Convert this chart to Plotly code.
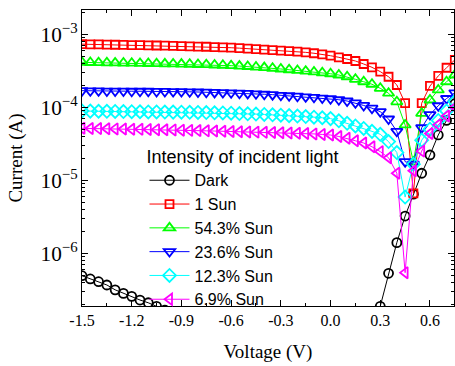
import plotly.graph_objects as go

voltage = [-1.5, -1.45, -1.4, -1.35, -1.3, -1.25, -1.2, -1.15, -1.1, -1.05,
           -1.0, -0.95, -0.9, -0.85, -0.8, -0.75, -0.7, -0.65, -0.6, -0.55,
           -0.5, -0.45, -0.4, -0.35, -0.3, -0.25, -0.2, -0.15, -0.1, -0.05,
           0.0, 0.05, 0.1, 0.15, 0.2, 0.25, 0.3, 0.35, 0.4, 0.45,
           0.5, 0.55, 0.6, 0.65, 0.7, 0.75]

dark = [4.93e-7, 4.45e-7, 4.08e-7, 3.68e-7, 3.16e-7, 2.82e-7, 2.57e-7, 2.29e-7, 2.10e-7, 1.88e-7,
        1.66e-7, 1.50e-7, 1.35e-7, 1.20e-7, 1.08e-7, 9.6e-8, 8.5e-8, 7.5e-8, 6.6e-8, 5.7e-8,
        4.9e-8, 4.1e-8, 3.4e-8, 2.7e-8, 2.1e-8, 1.6e-8, 1.1e-8, 7e-9, 4e-9, 2e-9,
        1e-9, 3e-9, 8e-9, 2e-8, 4.5e-8, 1.0e-7, 1.88e-7, 5.32e-7, 1.40e-6, 3.24e-6,
        6.46e-6, 1.25e-5, 2.22e-5, 4.18e-5, 6.61e-5, 1.12e-4]

sun_100 = [7.33e-4, 7.29e-4, 7.26e-4, 7.23e-4, 7.19e-4, 7.16e-4, 7.13e-4, 7.10e-4, 7.06e-4, 7.03e-4,
           6.98e-4, 6.93e-4, 6.89e-4, 6.84e-4, 6.79e-4, 6.75e-4, 6.68e-4, 6.62e-4, 6.55e-4, 6.46e-4,
           6.37e-4, 6.27e-4, 6.17e-4, 6.07e-4, 5.96e-4, 5.90e-4, 5.78e-4, 5.66e-4, 5.50e-4, 5.32e-4,
           5.09e-4, 4.84e-4, 4.59e-4, 4.31e-4, 3.92e-4, 3.53e-4, 3.08e-4, 2.62e-4, 2.02e-4, 1.14e-4,
           6.64e-6, 1.14e-4, 1.96e-4, 2.69e-4, 3.48e-4, 4.47e-4]

sun_543 = [4.13e-4, 4.11e-4, 4.09e-4, 4.07e-4, 4.06e-4, 4.04e-4, 4.02e-4, 4.00e-4, 3.98e-4, 3.96e-4,
           3.94e-4, 3.93e-4, 3.91e-4, 3.89e-4, 3.86e-4, 3.84e-4, 3.80e-4, 3.77e-4, 3.72e-4, 3.67e-4,
           3.62e-4, 3.56e-4, 3.50e-4, 3.43e-4, 3.35e-4, 3.27e-4, 3.20e-4, 3.13e-4, 3.05e-4, 2.97e-4,
           2.88e-4, 2.77e-4, 2.62e-4, 2.42e-4, 2.24e-4, 2.07e-4, 1.82e-4, 1.56e-4, 1.19e-4, 5.73e-5,
           1.78e-5, 8.28e-5, 1.26e-4, 1.73e-4, 2.24e-4, 2.77e-4]

sun_236 = [1.69e-4, 1.68e-4, 1.68e-4, 1.67e-4, 1.67e-4, 1.67e-4, 1.66e-4, 1.66e-4, 1.66e-4, 1.65e-4,
           1.65e-4, 1.64e-4, 1.64e-4, 1.63e-4, 1.62e-4, 1.61e-4, 1.60e-4, 1.59e-4, 1.58e-4, 1.56e-4,
           1.55e-4, 1.53e-4, 1.51e-4, 1.49e-4, 1.46e-4, 1.44e-4, 1.42e-4, 1.39e-4, 1.37e-4, 1.34e-4,
           1.31e-4, 1.27e-4, 1.22e-4, 1.15e-4, 1.06e-4, 9.72e-5, 8.71e-5, 6.92e-5, 4.68e-5, 1.80e-5,
           1.66e-5, 5.25e-5, 7.94e-5, 1.05e-4, 1.32e-4, 1.58e-4]

sun_123 = [8.91e-5, 8.87e-5, 8.83e-5, 8.81e-5, 8.77e-5, 8.75e-5, 8.71e-5, 8.69e-5, 8.65e-5, 8.63e-5,
           8.61e-5, 8.59e-5, 8.57e-5, 8.55e-5, 8.51e-5, 8.47e-5, 8.41e-5, 8.36e-5, 8.30e-5, 8.22e-5,
           8.15e-5, 8.07e-5, 7.98e-5, 7.89e-5, 7.80e-5, 7.69e-5, 7.59e-5, 7.46e-5, 7.33e-5, 7.19e-5,
           7.00e-5, 6.53e-5, 6.03e-5, 5.56e-5, 5.13e-5, 4.68e-5, 4.27e-5, 3.39e-5, 2.40e-5, 5.89e-6,
           1.66e-5, 3.55e-5, 5.01e-5, 6.61e-5, 8.91e-5, 1.20e-4]

sun_69 = [5.15e-5, 5.13e-5, 5.11e-5, 5.08e-5, 5.06e-5, 5.04e-5, 5.01e-5, 4.99e-5, 4.97e-5, 4.94e-5,
          4.92e-5, 4.90e-5, 4.86e-5, 4.83e-5, 4.80e-5, 4.76e-5, 4.73e-5, 4.70e-5, 4.67e-5, 4.63e-5,
          4.60e-5, 4.57e-5, 4.54e-5, 4.51e-5, 4.48e-5, 4.45e-5, 4.41e-5, 4.37e-5, 4.32e-5, 4.25e-5,
          4.17e-5, 3.98e-5, 3.76e-5, 3.48e-5, 3.24e-5, 2.88e-5, 2.47e-5, 2.04e-5, 1.25e-5, 5.43e-7,
          1.35e-5, 2.51e-5, 4.37e-5, 5.75e-5, 7.59e-5, 1.00e-4]

names = ["Dark", "1 Sun", "54.3% Sun", "23.6% Sun", "12.3% Sun", "6.9% Sun"]
series = [dark, sun_100, sun_543, sun_236, sun_123, sun_69]
colors = ["#000000", "#FF0000", "#00FF00", "#0000FF", "#00FFFF", "#FF00FF"]
symbols = ["circle-open", "square-open", "triangle-up-open", "triangle-down-open",
           "diamond-open", "triangle-left-open"]
sizes = [9, 8, 10, 10, 10, 10]

x_ticks = [-1.5, -1.2, -0.9, -0.6, -0.3, 0.0, 0.3, 0.6]
x_ticklabels = ["-1.5", "-1.2", "-0.9", "-0.6", "-0.3", "0.0", "0.3", "0.6"]

fig = go.Figure()
for name, ys, c, s, sz in zip(names, series, colors, symbols, sizes):
    fig.add_trace(go.Scatter(
        x=voltage, y=ys, name=name, mode="lines+markers",
        line=dict(color=c, width=1),
        marker=dict(symbol=s, size=sz, color=c, line=dict(color=c, width=1.8)),
    ))

serif = "Liberation Serif, Times New Roman, serif"
sans = "Liberation Sans, Arial, sans-serif"

fig.update_layout(
    width=455, height=366,
    margin=dict(l=82, r=1, t=10, b=60, autoexpand=False),
    paper_bgcolor="white", plot_bgcolor="white",
    font=dict(family=serif, size=16, color="black"),
    legend=dict(
        x=0.168, y=0.561, xanchor="left", yanchor="top",
        bgcolor="rgba(0,0,0,0)",
        font=dict(family=sans, size=16, color="black"),
        title=dict(text="Intensity of incident light", font=dict(family=sans, size=18, color="black")),
        itemwidth=40,
    ),
    showlegend=True,
)

fig.update_xaxes(
    range=[-1.5, 0.745], automargin=False,
    tickmode="array", tickvals=x_ticks, ticktext=x_ticklabels,
    ticks="inside", ticklen=6, tickwidth=1, tickcolor="black",
    minor=dict(ticks="inside", ticklen=3, tickwidth=1, tickcolor="black", dtick=0.15, tick0=-1.5),
    showline=True, linecolor="black", linewidth=1, mirror="ticks",
    showgrid=False, zeroline=False,
    tickfont=dict(family=serif, size=16),
    title=dict(text="Voltage (V)", font=dict(family=serif, size=19), standoff=16),
)

fig.update_yaxes(
    type="log", range=[-6.722, -2.667], automargin=False,
    dtick=1, exponentformat="power",
    ticks="inside", ticklen=6, tickwidth=1, tickcolor="black",
    minor=dict(ticks="inside", ticklen=3, tickwidth=1, tickcolor="black", dtick="D1"),
    showline=True, linecolor="black", linewidth=1, mirror="ticks",
    showgrid=False, zeroline=False,
    tickfont=dict(family=serif, size=17),
    title=dict(text="Current (A)", font=dict(family=serif, size=19), standoff=12),
)

fig.write_html("out.html", config={"displayModeBar": False},
               post_script="document.body.style.margin='0';document.body.style.overflow='hidden';")
